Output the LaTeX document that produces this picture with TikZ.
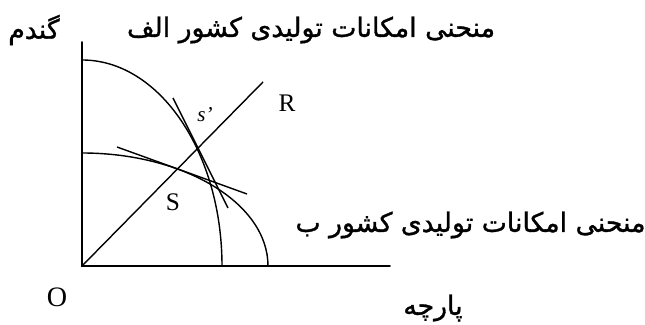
\documentclass[tikz,border=0pt]{standalone}
\usepackage{fontspec}
\setmainfont{Liberation Serif}
\newfontfamily\farsifont[Script=Arabic,FakeBold=1.2]{DejaVu Sans}
\TeXXeTstate=1
\usetikzlibrary{calc}

\begin{document}
\begin{tikzpicture}[
  axis/.style={line width=1.3pt,line cap=round},
  ppf/.style={line width=1pt},
  tang/.style={line width=1pt},
  ray/.style={line width=1pt},
  lat/.style={font=\fontsize{18}{18}\selectfont,inner sep=0pt},
  fa/.style={font=\farsifont\fontsize{19}{19}\selectfont,inner sep=0pt}]
  \useasboundingbox (-2.05,-1.475) rectangle (14.075,6.65);
  % axes
  \coordinate (O) at (0,0);
  \coordinate (ytop) at (0,5.6);
  \coordinate (xend) at (7.7,0);
  \draw[axis] (ytop) -- (O) -- (xend);
  % production possibility curves
  \draw[ppf] (0,5.15) arc[start angle=90,end angle=0,x radius=3.5,y radius=5.15];
  \draw[ppf] (0,2.825) arc[start angle=90,end angle=0,x radius=4.65,y radius=2.825];
  % ray from the origin
  \coordinate (rend) at (4.525,4.6);
  \draw[ray] (O) -- (rend);
  % tangents at s' and S
  \coordinate (ta1) at (2.275,4.2);
  \coordinate (ta2) at (3.65,1.45);
  \coordinate (tb1) at (0.875,2.975);
  \coordinate (tb2) at (4.125,1.8);
  \draw[tang] (ta1) -- (ta2);
  \draw[tang] (tb1) -- (tb2);
  % labels
  \node[lat] (lR) at (5.125,4.075) {R};
  \node[lat,font=\fontsize{15}{15}\selectfont] (lsp) at (3.075,3.775) {\textit{s’}};
  \node[lat] (lS) at (2.275,1.6) {S};
  \node[lat,font=\fontsize{20}{20}\selectfont] (lO) at (-0.625,-0.775) {O};
  \node[fa] (wheat) at (-1.2,5.9) {\beginR گندم\endR};
  \node[fa] (ppfA) at (5.725,5.9) {\beginR منحنی امکانات تولیدی کشور الف\endR};
  \node[fa] (ppfB) at (9.7125,1.025) {\beginR منحنی امکانات تولیدی کشور ب\endR};
  \node[fa] (cloth) at (8.775,-1.05) {\beginR پارچه\endR};
\end{tikzpicture}
\end{document}
